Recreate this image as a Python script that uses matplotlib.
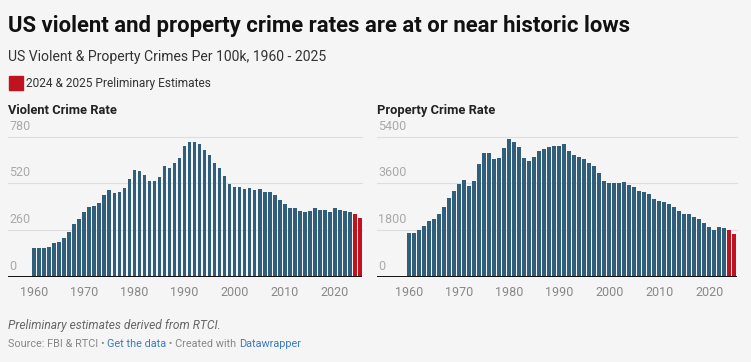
import matplotlib.pyplot as plt

years = list(range(1960, 2026))
prelim_years = [2024, 2025]

violent = [160, 158, 162, 168, 186, 196, 216, 248, 294, 324,
           360, 390, 395, 412, 455, 482, 464, 472, 493, 543,
           592, 588, 566, 534, 535, 553, 614, 607, 635, 662,
           726, 752, 752, 742, 708, 680, 633, 606, 563, 518,
           500, 499, 490, 494, 481, 486, 474, 473, 453, 428,
           405, 384, 382, 367, 359, 367, 384, 374, 369, 359,
           380, 372, 366, 359, 349, 329]

property_crime = [1690, 1700, 1810, 1965, 2160, 2220, 2415, 2690, 3040, 3320,
                  3590, 3730, 3515, 3690, 4360, 4770, 4775, 4555, 4595, 4965,
                  5310, 5210, 4990, 4590, 4460, 4620, 4835, 4915, 4990, 5030,
                  5060, 5110, 4850, 4700, 4610, 4545, 4400, 4275, 4015, 3695,
                  3605, 3630, 3605, 3655, 3540, 3460, 3305, 3270, 3180, 3010,
                  2935, 2870, 2805, 2675, 2550, 2420, 2405, 2305, 2215, 2075,
                  1905, 1790, 1905, 1865, 1790, 1635]

violent_ticks = [0, 260, 520, 780]
property_ticks = [0, 1800, 3600, 5400]
year_ticks = [1960, 1970, 1980, 1990, 2000, 2010, 2020]

BG = '#f5f5f5'
BLUE = '#315f7b'
RED = '#c0121f'
W, H = 751, 362

plt.rcParams['font.family'] = ['Roboto', 'DejaVu Sans']

fig = plt.figure(figsize=(W / 100, H / 100), dpi=100, facecolor=BG)


def fx(px):
    return px / W


def fy(px):
    return 1 - px / H


def panel(left_px, right_px, xlim, values, ticks, title):
    ax = fig.add_axes([fx(left_px), fy(276.7), fx(right_px - left_px), 140 / H])
    ax.set_facecolor(BG)
    colors = [RED if y in prelim_years else BLUE for y in years]
    ax.bar(years, values, width=0.74, color=colors, zorder=2)
    ax.set_xlim(*xlim)
    ax.set_ylim(0, ticks[-1])
    for t in ticks[1:]:
        ax.axhline(t, color='#dedede', lw=0.8, zorder=1, clip_on=False)
    ax.axhline(0, color='#111111', lw=1.4, zorder=3)
    for t in ticks:
        ax.annotate(str(t), xy=(0, t), xycoords=('axes fraction', 'data'),
                    xytext=(1, 3), textcoords='offset points',
                    ha='left', va='bottom', fontsize=9, color='#aaaaaa')
    for s in ax.spines.values():
        s.set_visible(False)
    ax.set_yticks([])
    ax.set_xticks(year_ticks)
    ax.set_xticklabels([str(y) for y in year_ticks])
    ax.tick_params(axis='x', length=0, pad=7, labelsize=9, labelcolor='#888888')
    fig.text(fx(left_px), fy(114), title, fontsize=9.3, fontweight='bold',
             color='#222222', va='baseline', ha='left')
    return ax


ax1 = panel(8, 362, (1954.77, 2025.43), violent, violent_ticks, 'Violent Crime Rate')
ax2 = panel(377, 737, (1953.54, 2025.54), property_crime, property_ticks, 'Property Crime Rate')

fig.text(fx(8), fy(31.7), 'US violent and property crime rates are at or near historic lows',
         fontsize=15.9, fontweight='bold', color='#111111', va='baseline')
fig.text(fx(8), fy(61), 'US Violent & Property Crimes Per 100k, 1960 - 2025',
         fontsize=10.1, color='#333333', va='baseline')

fig.patches.append(plt.Rectangle((fx(9), fy(90)), 13.5 / W, 13.5 / H,
                                 transform=fig.transFigure, color=RED, figure=fig))
fig.text(fx(26), fy(87), '2024 & 2025 Preliminary Estimates',
         fontsize=8.6, color='#333333', va='baseline')

fig.text(fx(8), fy(329.3), 'Preliminary estimates derived from RTCI.',
         fontsize=8.65, style='italic', color='#666666', va='baseline')

parts = [('Source: FBI & RTCI \u2022 ', '#888888'), ('Get the data', '#3b7bbf'),
         (' \u2022 Created with ', '#888888'), ('Datawrapper', '#3b7bbf')]
prev = fig.text(fx(8), fy(347.3), parts[0][0], fontsize=7.85, color=parts[0][1], va='baseline')
for txt, col in parts[1:]:
    prev = ax1.annotate(txt, xy=(1, 0), xycoords=prev, fontsize=7.85, color=col,
                        va='bottom', ha='left', annotation_clip=False)

fig.savefig('out.png', dpi=100, facecolor=BG)
